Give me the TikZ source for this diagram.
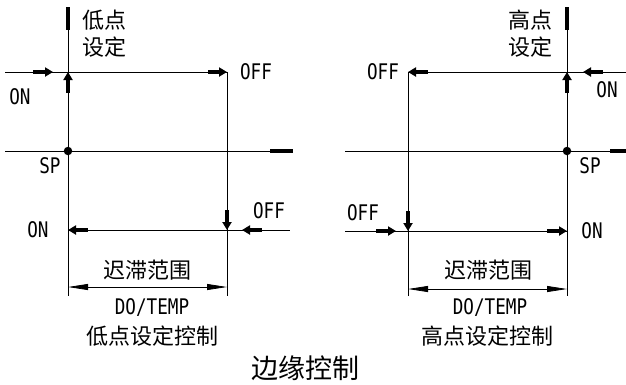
\documentclass[tikz,border=0pt]{standalone}
\usepackage{fontspec}
\setmainfont{Noto Sans CJK SC}
\newfontfamily\lat[FakeStretch=0.82]{DejaVu Sans Mono}
\usetikzlibrary{arrows.meta}
\tikzset{
  ln/.style={line width=0.8pt, black},
  bar/.style={line width=4pt, black},
  fat/.style={line width=3.6pt, black, -{Triangle[length=8pt,width=9pt]}},
  dimline/.style={line width=0.8pt, black, {Triangle[length=20pt,width=6pt]}-{Triangle[length=20pt,width=6pt]}},
  cjk/.style={inner sep=0pt, font=\fontsize{22}{25}\selectfont},
  ttl/.style={inner sep=0pt, font=\fontsize{27}{30}\selectfont},
  lt/.style={inner sep=0pt, font=\lat\fontsize{21.5}{24}\selectfont},
  dot/.style={circle, fill=black, inner sep=0pt, minimum size=8.5pt},
}
\begin{document}
\begin{tikzpicture}[x=1pt,y=-1pt]
\useasboundingbox (0,0) rectangle (626,384);
% ---------- left diagram ----------
\coordinate (LvT) at (68,7);
\coordinate (LvB) at (68,296);
\coordinate (LvBar) at (68,30);
\coordinate (LhL) at (5,72);
\coordinate (LhR) at (227,72);
\coordinate (Lv2B) at (227,296);
\coordinate (LspL) at (5,151);
\coordinate (LspR) at (293,151);
\coordinate (LspBar) at (270,151);
\coordinate (LbL) at (68,230);
\coordinate (LbR) at (290,230);
\node[dot] (Ldot) at (68,151) {};
\draw[ln] (LvT) -- (LvB);
\draw[bar] (LvT) -- (LvBar);
\draw[ln] (LhL) -- (LhR) -- (Lv2B);
\draw[ln] (LspL) -- (LspR);
\draw[bar] (LspBar) -- (LspR);
\draw[ln] (LbL) -- (LbR);
\coordinate (La1s) at (33,72);  \coordinate (La1e) at (53,72);
\coordinate (La2s) at (208,72); \coordinate (La2e) at (227,72);
\coordinate (La3s) at (68,93);  \coordinate (La3e) at (68,72);
\coordinate (La4s) at (88,230); \coordinate (La4e) at (68,230);
\coordinate (La5s) at (227,210);\coordinate (La5e) at (227,230);
\coordinate (La6s) at (262,230);\coordinate (La6e) at (242,230);
\draw[fat] (La1s) -- (La1e);
\draw[fat] (La2s) -- (La2e);
\draw[fat] (La3s) -- (La3e);
\draw[fat] (La4s) -- (La4e);
\draw[fat] (La5s) -- (La5e);
\draw[fat] (La6s) -- (La6e);
\coordinate (LdL) at (68,287); \coordinate (LdR) at (227,287);
\draw[dimline] (LdL) -- (LdR);
\node[cjk] (Lt1) at (104,20) {低点};
\node[cjk] (Lt2) at (104,47) {设定};
\node[lt] (Lon1) at (20,97) {ON};
\node[lt] (Loff1) at (256,72) {OFF};
\node[lt] (Lsp) at (50,166) {SP};
\node[lt] (Loff2) at (269,211) {OFF};
\node[lt] (Lon2) at (38,230) {ON};
\node[cjk] (Lhys) at (147,270) {迟滞范围};
\node[lt] (Ldo) at (152,308) {DO/TEMP};
\node[cjk] (Lctl) at (152,336) {低点设定控制};
% ---------- right diagram ----------
\coordinate (RvT) at (567,7);
\coordinate (RvB) at (567,296);
\coordinate (RvBar) at (567,30);
\coordinate (RhL) at (408,72);
\coordinate (RhR) at (626,72);
\coordinate (Rv2B) at (408,296);
\coordinate (RspL) at (345,151);
\coordinate (RspR) at (626,151);
\coordinate (RspBar) at (610,151);
\coordinate (RbL) at (345,231);
\coordinate (RbR) at (567,231);
\node[dot] (Rdot) at (567,151) {};
\draw[ln] (RvT) -- (RvB);
\draw[bar] (RvT) -- (RvBar);
\draw[ln] (Rv2B) -- (RhL) -- (RhR);
\draw[ln] (RspL) -- (RspR);
\draw[bar] (RspBar) -- (RspR);
\draw[ln] (RbL) -- (RbR);
\coordinate (Ra1s) at (428,72); \coordinate (Ra1e) at (408,72);
\coordinate (Ra2s) at (603,72); \coordinate (Ra2e) at (583,72);
\coordinate (Ra3s) at (567,93); \coordinate (Ra3e) at (567,72);
\coordinate (Ra4s) at (376,231);\coordinate (Ra4e) at (396,231);
\coordinate (Ra5s) at (408,211);\coordinate (Ra5e) at (408,231);
\coordinate (Ra6s) at (547,231);\coordinate (Ra6e) at (567,231);
\draw[fat] (Ra1s) -- (Ra1e);
\draw[fat] (Ra2s) -- (Ra2e);
\draw[fat] (Ra3s) -- (Ra3e);
\draw[fat] (Ra4s) -- (Ra4e);
\draw[fat] (Ra5s) -- (Ra5e);
\draw[fat] (Ra6s) -- (Ra6e);
\coordinate (RdL) at (408,289); \coordinate (RdR) at (567,289);
\draw[dimline] (RdL) -- (RdR);
\node[cjk] (Rt1) at (530,20) {高点};
\node[cjk] (Rt2) at (530,47) {设定};
\node[lt] (Roff1) at (383,72) {OFF};
\node[lt] (Ron1) at (607,90) {ON};
\node[lt] (Rsp) at (590,166) {SP};
\node[lt] (Roff2) at (363,213) {OFF};
\node[lt] (Ron2) at (592,231) {ON};
\node[cjk] (Rhys) at (488,270) {迟滞范围};
\node[lt] (Rdo) at (490,308) {DO/TEMP};
\node[cjk] (Rctl) at (487,336) {高点设定控制};
% ---------- title ----------
\node[ttl] (title) at (305,368) {边缘控制};
\end{tikzpicture}
\end{document}
